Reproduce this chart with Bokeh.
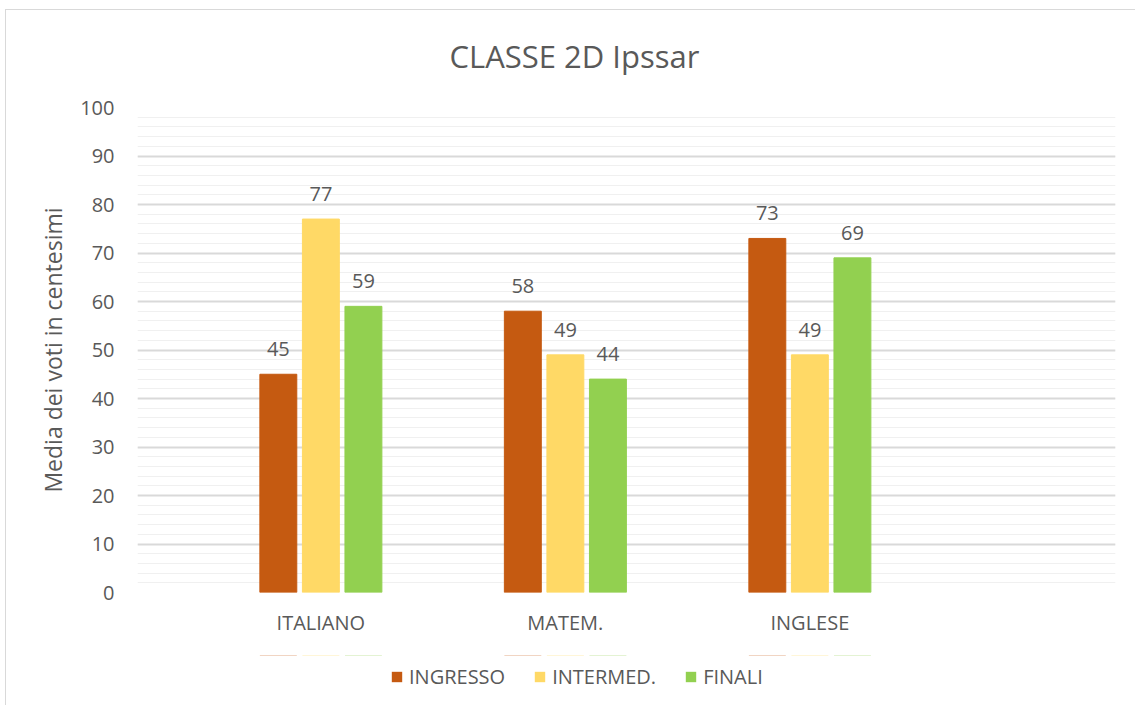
from bokeh.plotting import figure
from bokeh.layouts import column
from bokeh.models import Range1d, FixedTicker, ColumnDataSource, Legend, LegendItem, Title
from bokeh.embed import file_html
from bokeh.resources import INLINE
from bokeh.core.properties import value

categories = ["ITALIANO", "MATEM.", "INGLESE"]
series = ["INGRESSO", "INTERMED.", "FINALI"]
ingresso = [45, 58, 73]
intermed = [77, 49, 49]
finali = [59, 44, 69]
colors = ["#c55a11", "#ffd966", "#92d050"]
y_ticks = [0, 10, 20, 30, 40, 50, 60, 70, 80, 90, 100]

FONT = "Open Sans"
TXT = "#595959"

p = figure(frame_width=978, frame_height=485, output_backend="svg", toolbar_location=None,
           x_range=Range1d(0, 4), y_range=Range1d(0, 100),
           min_border_left=137, min_border_right=20, min_border_top=107, min_border_bottom=63)
p.outline_line_color = None
p.background_fill_color = "white"
p.border_fill_alpha = 0

t = Title(text="CLASSE 2D Ipssar", align="left", offset=312, text_font=FONT, text_font_size="31px",
          text_color=TXT, text_font_style="normal", standoff=62)
p.add_layout(t, "above")

# legend strip below the chart (its frame is aligned with the chart frame by the column)
lg = figure(width=1135, height=50, output_backend="svg", toolbar_location=None,
            x_range=Range1d(0, 4), y_range=Range1d(-2000, -1999),
            x_axis_location=None, y_axis_location=None,
            min_border_left=0, min_border_right=0, min_border_top=0, min_border_bottom=0)
lg.outline_line_color = None
lg.grid.grid_line_color = None
lg.background_fill_alpha = 0
lg.border_fill_alpha = 0

centers = [i + 0.75 for i in range(len(categories))]
offsets = [-0.174, 0.0, 0.174]
bw = 0.151
items = []
for k, (name, vals) in enumerate(zip(series, [ingresso, intermed, finali])):
    xs = [c + offsets[k] for c in centers]
    src = ColumnDataSource(dict(x=xs, top=vals, lab=[str(v) for v in vals]))
    p.vbar(x="x", top="top", bottom=0, width=bw, source=src, fill_color=colors[k],
           line_color=colors[k], line_width=1)
    p.text(x="x", y="top", text="lab", source=src, text_align="center", text_baseline="bottom",
           y_offset=-18, text_font=value(FONT), text_font_size="20px", text_color=TXT)
    # proxy renderer for the legend swatch (far outside the strip's visible range)
    r = lg.vbar(x="x", top="top", bottom=0, width=bw, source=src, fill_color=colors[k],
                line_color=None)
    items.append(LegendItem(label=name, renderers=[r]))

# axes
p.yaxis.ticker = FixedTicker(ticks=y_ticks, minor_ticks=list(range(0, 101, 2)))
p.yaxis.axis_line_color = None
p.yaxis.major_tick_line_color = None
p.yaxis.minor_tick_line_color = None
p.yaxis.major_label_text_font = FONT
p.yaxis.major_label_text_font_size = "20px"
p.yaxis.major_label_text_color = TXT
p.yaxis.major_label_standoff = 17
p.yaxis.axis_label = "Media dei voti in centesimi"
p.yaxis.axis_label_text_font = FONT
p.yaxis.axis_label_text_font_size = "23px"
p.yaxis.axis_label_text_font_style = "normal"
p.yaxis.axis_label_text_color = TXT
p.yaxis.axis_label_standoff = 8

p.xaxis.ticker = FixedTicker(ticks=centers)
p.xaxis.major_label_overrides = {c: lab for c, lab in zip(centers, categories)}
p.xaxis.axis_line_color = None
p.xaxis.major_tick_line_color = None
p.xaxis.minor_tick_line_color = None
p.xaxis.major_label_text_font = FONT
p.xaxis.major_label_text_font_size = "20px"
p.xaxis.major_label_text_color = TXT
p.xaxis.major_label_standoff = 10

p.xgrid.grid_line_color = None
p.ygrid.grid_line_color = "#d9d9d9"
p.ygrid.grid_line_width = 2
p.ygrid.minor_grid_line_color = "#f0f0f0"
p.ygrid.minor_grid_line_width = 1

legend = Legend(items=items, orientation="horizontal", location=(253, 15),
                label_text_font=FONT, label_text_font_size="20px", label_text_color=TXT,
                glyph_width=13, glyph_height=13, label_standoff=6, spacing=28,
                border_line_color=None, background_fill_alpha=0, padding=0, margin=0)
lg.add_layout(legend, "center")

layout = column(p, lg, spacing=0,
                styles={"background": "linear-gradient(#d9d9d9,#d9d9d9) 5px 9px / 100% 1px no-repeat, "
                                      "linear-gradient(#d9d9d9,#d9d9d9) 5px 9px / 1px 100% no-repeat, white"})

open("out.html", "w").write(file_html(layout, INLINE))
